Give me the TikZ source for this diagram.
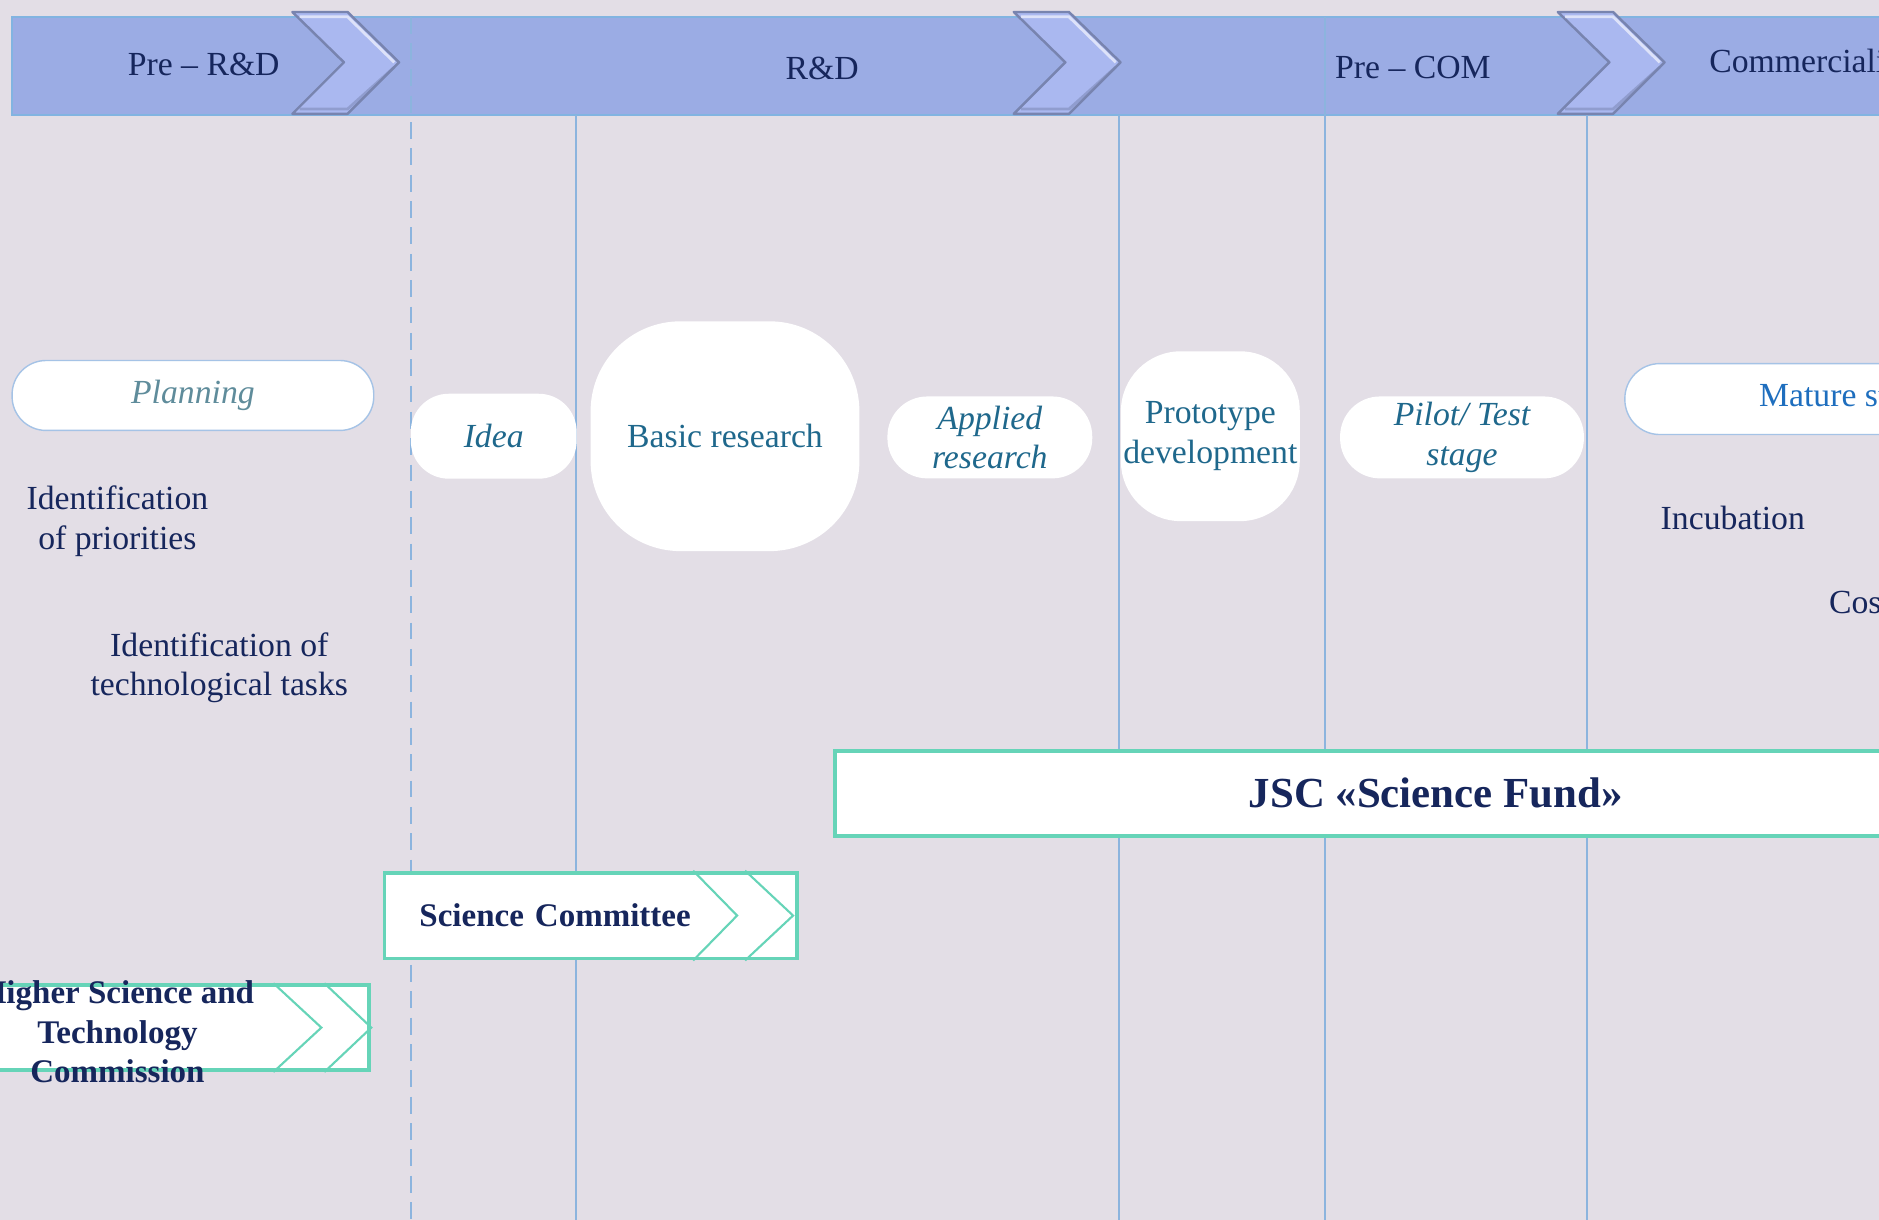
\documentclass[tikz,border=0pt]{standalone}
\usepackage{fontspec}
\setmainfont{Liberation Serif}
\definecolor{bgpage}{RGB}{227,222,230}
\definecolor{band}{RGB}{155,172,228}
\definecolor{bandline}{RGB}{130,180,225}
\definecolor{chevfill}{RGB}{170,184,240}
\definecolor{chevedge}{RGB}{120,132,175}
\definecolor{vline}{RGB}{140,180,222}
\definecolor{navy}{RGB}{22,38,92}
\definecolor{stagetext}{RGB}{31,104,140}
\definecolor{plantext}{RGB}{95,140,155}
\definecolor{maturetext}{RGB}{30,110,190}
\definecolor{capsule}{RGB}{165,195,230}
\definecolor{fundline}{RGB}{102,212,184}

\begin{document}
\begin{tikzpicture}[x=0.012cm,y=-0.012cm,
  phase/.style={text=navy,font=\fontsize{9.6}{11}\selectfont},
  plain/.style={text=navy,align=center,font=\fontsize{9.6}{11.2}\selectfont},
  stage/.style={fill=white,align=center,inner sep=0pt,text=stagetext,font=\fontsize{9.6}{11.2}\selectfont},
  ital/.style={font=\fontsize{9.6}{11.2}\selectfont\itshape},
  chev/.style={fill=chevfill,draw=chevedge,line width=0.7pt,line join=round},
  fundbox/.style={draw=fundline,fill=white,line width=1.1pt,inner sep=0pt,text=navy,font=\fontsize{9.4}{11.2}\selectfont\bfseries},
  fundarrow/.style={draw=fundline,line width=0.6pt}]
\clip (0,0) rectangle (1568,1018);
\fill[bgpage] (0,0) rectangle (1568,1018);

% phases
\draw[bandline,fill=band,line width=0.5pt] (10,14) rectangle (1620,96);
\node[phase] (prerd) at (170,54) {Pre -- R\&D};
\node[phase] (rd) at (686,57) {R\&D};
\node[phase] (precom) at (1179,56) {Pre -- COM};
\node[phase,anchor=west] (com) at (1416,51) {Commercialization};

% stage borders
\draw[vline,line width=0.6pt,dash pattern=on 4.8pt off 2.7pt] (343,14) -- (343,1018);
\draw[vline,line width=0.6pt] (1106,14) -- (1106,1018);
\foreach \x in {481,934,1324}
{
\draw[vline,line width=0.6pt] (\x,96) -- (\x,1018);
}
\foreach \cx in {244,846,1300}
{
\draw[chev] (\cx,10) -- ++(46,0) -- ++(43,42) -- ++(-43,43) -- ++(-46,0) -- ++(43,-43) -- cycle;
\draw[white,opacity=0.6,line width=0.8pt] (\cx+6,14) -- ++(40,0) -- ++(39,38);
\draw[chevedge,opacity=0.5,line width=0.8pt] (\cx+85,56) -- ++(-39,35) -- ++(-40,0);
}

% stages
\node[stage,ital,draw=capsule,rounded corners=0.34cm,minimum width=3.62cm,minimum height=0.70cm,text=plantext] (planning) at (161,330) {Planning};
\node[stage,ital,rounded corners=0.38cm,minimum width=1.66cm,minimum height=0.85cm] (idea) at (412,364) {Idea};
\node[stage,rounded corners=0.9cm,minimum width=2.69cm,minimum height=2.30cm] (basic) at (605,364) {Basic research};
\node[stage,ital,rounded corners=0.4cm,minimum width=2.05cm,minimum height=0.82cm] (applied) at (826,365) {Applied\\ research};
\node[stage,rounded corners=0.6cm,minimum width=1.79cm,minimum height=1.70cm] (prototype) at (1010,364) {Prototype\\ development};
\node[stage,ital,rounded corners=0.4cm,minimum width=2.44cm,minimum height=0.82cm] (pilot) at (1220,365) {Pilot/ Test\\ stage};
\node[stage,draw=capsule,rounded corners=0.35cm,minimum width=4.44cm,minimum height=0.71cm,text=maturetext] (mature) at (1541,333) {Mature stage};

% tasks
\node[plain] (priorities) at (98,435) {Identification\\ of priorities};
\node[plain] (tasks) at (183,557) {Identification of\\ technological tasks};
\node[plain] (incubation) at (1446,432) {Incubation};
\node[plain,anchor=west] (cos) at (1516,503) {Cos};

% bodies
\node[fundbox,minimum width=12.02cm,minimum height=0.85cm,font=\fontsize{12.2}{14}\selectfont\bfseries] (fund) at (1198,662) {JSC «Science Fund»};
\node[fundbox,minimum height=0.86cm,text width=3.43cm,inner xsep=0.35cm,align=left] (committee) at (493,764) {Science Committee};
\draw[fundarrow] ([xshift=-1.06cm]committee.north east) -- ([xshift=-0.62cm]committee.east) -- ([xshift=-1.06cm]committee.south east);
\draw[fundarrow] ([xshift=-0.54cm]committee.north east) -- ([xshift=-0.06cm]committee.east) -- ([xshift=-0.54cm]committee.south east);
\node[fundbox,minimum width=3.94cm,minimum height=0.85cm] (hstc) at (144,857.5) {};
\draw[fundarrow] ([xshift=-0.98cm]hstc.north east) -- ([xshift=-0.50cm]hstc.east) -- ([xshift=-0.98cm]hstc.south east);
\draw[fundarrow] ([xshift=-0.47cm]hstc.north east) -- (hstc.east) -- ([xshift=-0.47cm]hstc.south east);
\node[plain,font=\fontsize{9.4}{11.2}\selectfont\bfseries] (hstclabel) at (98,861) {Higher Science and\\ Technology\\ Commission};
\end{tikzpicture}
\end{document}
